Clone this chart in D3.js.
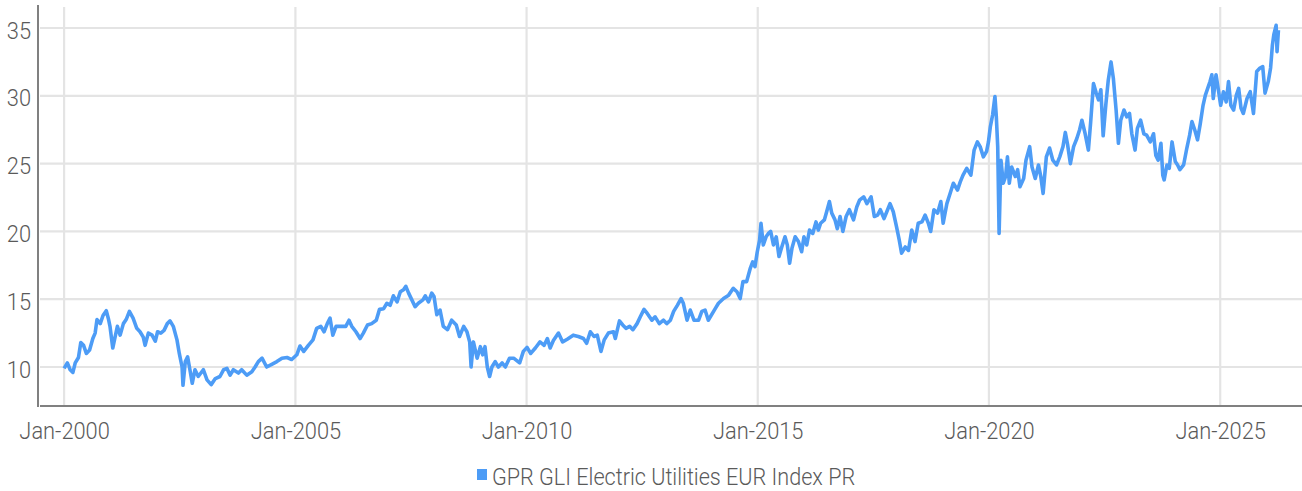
<!DOCTYPE html>
<html>
<head>
<meta charset="utf-8">
<script src="https://cdn.jsdelivr.net/npm/d3@7"></script>
<style>
  html, body { margin: 0; padding: 0; background: #fff; }
  svg text { font-family: Roboto, "Noto Sans", sans-serif; }
</style>
</head>
<body>
<svg id="chart"></svg>
<script>
// ===================== DATA =====================
const seriesName = "GPR GLI Electric Utilities EUR Index PR";
const yTicks = [10, 15, 20, 25, 30, 35];
const xTickYears = [2000, 2005, 2010, 2015, 2020, 2025];

// decimal years
const dates = [
  2000.00, 2000.07, 2000.13, 2000.19, 2000.24, 2000.31, 2000.36, 2000.42, 2000.48, 2000.55,
  2000.62, 2000.67, 2000.71, 2000.78, 2000.84, 2000.91, 2000.96, 2000.99, 2001.05, 2001.10,
  2001.15, 2001.21, 2001.28, 2001.34, 2001.41, 2001.49, 2001.57, 2001.64, 2001.71, 2001.75,
  2001.82, 2001.90, 2001.97, 2002.02, 2002.09, 2002.16, 2002.23, 2002.29, 2002.36, 2002.44,
  2002.49, 2002.55, 2002.57, 2002.62, 2002.67, 2002.72, 2002.77, 2002.83, 2002.90, 2003.01,
  2003.09, 2003.18, 2003.27, 2003.37, 2003.45, 2003.52, 2003.59, 2003.66, 2003.77, 2003.84,
  2003.95, 2004.06, 2004.13, 2004.20, 2004.28, 2004.38, 2004.49, 2004.60, 2004.71, 2004.82,
  2004.92, 2005.03, 2005.10, 2005.18, 2005.28, 2005.38, 2005.46, 2005.55, 2005.62, 2005.69,
  2005.75, 2005.81, 2005.88, 2005.98, 2006.09, 2006.16, 2006.22, 2006.31, 2006.40, 2006.47,
  2006.56, 2006.65, 2006.75, 2006.82, 2006.91, 2006.98, 2007.05, 2007.12, 2007.20, 2007.27,
  2007.34, 2007.39, 2007.45, 2007.52, 2007.59, 2007.66, 2007.76, 2007.81, 2007.88, 2007.95,
  2008.00, 2008.06, 2008.13, 2008.20, 2008.29, 2008.38, 2008.48, 2008.55, 2008.64, 2008.71,
  2008.77, 2008.80, 2008.85, 2008.93, 2009.00, 2009.05, 2009.10, 2009.15, 2009.20, 2009.25,
  2009.32, 2009.39, 2009.47, 2009.54, 2009.63, 2009.72, 2009.85, 2009.93, 2010.01, 2010.09,
  2010.19, 2010.29, 2010.38, 2010.45, 2010.51, 2010.58, 2010.69, 2010.78, 2010.88, 2011.01,
  2011.12, 2011.23, 2011.30, 2011.38, 2011.46, 2011.53, 2011.61, 2011.68, 2011.77, 2011.88,
  2011.92, 2012.01, 2012.08, 2012.15, 2012.23, 2012.30, 2012.39, 2012.46, 2012.54, 2012.61,
  2012.71, 2012.78, 2012.87, 2012.96, 2013.03, 2013.11, 2013.18, 2013.26, 2013.34, 2013.39,
  2013.47, 2013.54, 2013.62, 2013.72, 2013.79, 2013.86, 2013.93, 2014.08, 2014.15, 2014.26,
  2014.37, 2014.47, 2014.55, 2014.62, 2014.68, 2014.76, 2014.84, 2014.89, 2014.94, 2014.99,
  2015.04, 2015.07, 2015.12, 2015.18, 2015.23, 2015.28, 2015.34, 2015.40, 2015.46, 2015.52,
  2015.59, 2015.64, 2015.69, 2015.74, 2015.81, 2015.88, 2015.95, 2016.00, 2016.06, 2016.12,
  2016.19, 2016.26, 2016.31, 2016.36, 2016.44, 2016.49, 2016.55, 2016.60, 2016.67, 2016.72,
  2016.78, 2016.84, 2016.91, 2016.98, 2017.07, 2017.14, 2017.20, 2017.29, 2017.36, 2017.45,
  2017.52, 2017.59, 2017.65, 2017.73, 2017.79, 2017.86, 2017.93, 2018.00, 2018.06, 2018.11,
  2018.19, 2018.26, 2018.33, 2018.40, 2018.47, 2018.55, 2018.62, 2018.69, 2018.74, 2018.81,
  2018.89, 2018.96, 2019.01, 2019.09, 2019.16, 2019.23, 2019.32, 2019.38, 2019.44, 2019.52,
  2019.61, 2019.68, 2019.75, 2019.81, 2019.88, 2019.95, 2019.99, 2020.03, 2020.08, 2020.13,
  2020.16, 2020.19, 2020.22, 2020.26, 2020.31, 2020.36, 2020.40, 2020.44, 2020.49, 2020.57,
  2020.62, 2020.67, 2020.75, 2020.80, 2020.88, 2020.93, 2021.00, 2021.07, 2021.12, 2021.17,
  2021.24, 2021.31, 2021.38, 2021.46, 2021.53, 2021.60, 2021.65, 2021.70, 2021.76, 2021.83,
  2021.90, 2021.96, 2022.01, 2022.08, 2022.15, 2022.20, 2022.26, 2022.32, 2022.37, 2022.42,
  2022.47, 2022.53, 2022.58, 2022.64, 2022.69, 2022.75, 2022.80, 2022.85, 2022.92, 2022.98,
  2023.04, 2023.09, 2023.16, 2023.21, 2023.28, 2023.35, 2023.41, 2023.49, 2023.56, 2023.61,
  2023.66, 2023.72, 2023.76, 2023.79, 2023.85, 2023.90, 2023.96, 2024.03, 2024.08, 2024.13,
  2024.21, 2024.28, 2024.34, 2024.39, 2024.45, 2024.51, 2024.57, 2024.63, 2024.68, 2024.73,
  2024.78, 2024.82, 2024.85, 2024.91, 2024.96, 2025.01, 2025.07, 2025.13, 2025.18, 2025.23,
  2025.29, 2025.35, 2025.40, 2025.45, 2025.50, 2025.58, 2025.65, 2025.72, 2025.79, 2025.86,
  2025.92, 2025.97, 2026.04, 2026.09, 2026.13, 2026.16, 2026.21, 2026.23, 2026.26
];

const values = [
  9.9, 10.3, 9.8, 9.6, 10.3, 10.7, 11.8, 11.6, 11.0, 11.25,
  12.1, 12.5, 13.5, 13.2, 13.8, 14.15, 13.5, 13.0, 11.4, 12.2,
  13.0, 12.35, 13.2, 13.5, 14.1, 13.6, 12.85, 12.6, 12.2, 11.6,
  12.5, 12.35, 11.9, 12.6, 12.5, 12.7, 13.2, 13.4, 13.0, 12.0,
  11.0, 10.0, 8.65, 10.4, 10.75, 9.8, 8.8, 9.8, 9.3, 9.8,
  9.05, 8.7, 9.15, 9.3, 9.8, 9.9, 9.4, 9.8, 9.55, 9.8,
  9.4, 9.65, 10.0, 10.4, 10.65, 10.0, 10.2, 10.4, 10.65, 10.7,
  10.55, 10.9, 11.55, 11.15, 11.6, 12.0, 12.85, 13.0, 12.6, 13.2,
  13.6, 12.35, 13.0, 13.0, 13.0, 13.45, 13.0, 12.6, 12.1, 12.5,
  13.1, 13.2, 13.45, 14.25, 14.3, 14.7, 14.55, 15.25, 14.8, 15.55,
  15.7, 15.95, 15.45, 14.95, 14.45, 14.7, 14.95, 15.25, 14.8, 15.45,
  15.2, 13.85, 14.2, 13.0, 12.75, 13.45, 13.1, 12.25, 13.0, 12.6,
  11.85, 10.0, 11.85, 10.65, 11.5, 10.9, 11.5, 10.0, 9.3, 10.0,
  10.4, 10.0, 10.3, 10.0, 10.65, 10.65, 10.3, 11.15, 11.45, 11.0,
  11.4, 11.85, 11.6, 12.1, 11.4, 11.95, 12.5, 11.85, 12.05, 12.35,
  12.25, 12.1, 11.75, 12.6, 12.25, 12.35, 11.15, 12.0, 12.5, 12.6,
  12.1, 13.4, 13.1, 12.85, 13.0, 12.75, 13.2, 13.7, 14.25, 13.95,
  13.45, 13.7, 13.2, 13.45, 13.2, 13.45, 14.1, 14.55, 15.05, 14.7,
  13.45, 14.2, 13.45, 13.45, 14.1, 14.2, 13.45, 14.3, 14.7, 15.05,
  15.3, 15.8, 15.55, 15.05, 16.3, 16.3, 17.3, 17.75, 17.4, 18.5,
  19.35, 20.6, 19.0, 19.6, 19.85, 20.0, 19.0, 19.6, 18.15, 18.85,
  19.6, 19.0, 17.65, 18.75, 19.6, 19.25, 18.5, 19.6, 19.0, 20.1,
  19.85, 20.7, 20.1, 20.6, 20.85, 21.45, 22.2, 21.35, 20.85, 20.2,
  21.1, 20.0, 21.1, 21.6, 20.85, 21.8, 22.3, 22.55, 22.05, 22.55,
  21.1, 21.2, 21.6, 20.95, 21.45, 22.05, 21.45, 20.35, 19.35, 18.4,
  18.85, 18.6, 20.1, 19.25, 20.6, 20.7, 21.2, 20.6, 20.0, 21.6,
  21.35, 22.2, 20.6, 22.05, 22.8, 23.55, 23.05, 23.65, 24.15, 24.65,
  24.15, 26.0, 26.6, 26.25, 25.5, 25.9, 26.6, 27.7, 28.6, 29.95,
  28.45, 26.25, 19.85, 25.25, 23.55, 24.05, 25.5, 23.55, 24.75, 24.05,
  24.55, 23.3, 23.9, 25.25, 26.25, 24.75, 23.9, 24.9, 24.05, 22.8,
  25.5, 26.15, 25.25, 24.9, 25.5, 26.25, 27.3, 26.4, 25.0, 26.25,
  26.85, 27.5, 28.2, 27.2, 26.0, 28.1, 30.9, 30.2, 29.7, 30.45,
  27.05, 29.45, 31.15, 32.5, 31.3, 28.95, 26.5, 28.2, 28.95, 28.45,
  28.7, 27.2, 26.0, 27.6, 28.2, 27.2, 27.1, 26.6, 27.2, 25.6,
  25.25, 26.5, 24.15, 23.8, 24.9, 24.65, 26.6, 25.15, 24.9, 24.55,
  24.9, 26.15, 27.1, 28.1, 27.5, 26.75, 27.95, 29.3, 30.05, 30.55,
  31.05, 31.55, 29.8, 31.55, 30.45, 29.3, 30.3, 29.55, 31.05, 29.3,
  28.95, 30.05, 30.55, 29.1, 28.7, 29.8, 30.3, 28.7, 31.8, 32.05,
  32.15, 30.2, 31.05, 32.05, 33.75, 34.5, 35.2, 33.25, 34.85
];
// ========================================================================

var width = 1302;
var height = 491;
var plotLeft = 38, plotRight = 1302, plotTop = 7, plotBottom = 406;

function toDate(dec) {
  var y = Math.floor(dec);
  var a = new Date(y, 0, 1), b = new Date(y + 1, 0, 1);
  return new Date(a.getTime() + (dec - y) * (b - a));
}

const data = dates.map((d, i) => ({ date: toDate(d), value: values[i] }));

const xs = d3.scaleTime()
  .domain([toDate(1999.435), toDate(2026.77)])
  .range([plotLeft, plotRight]);
const ys = d3.scaleLinear()
  .domain([7.124, 36.55])
  .range([plotBottom, plotTop]);

const svg = d3.select("#chart")
  .attr("width", width)
  .attr("height", height);

const xTickDates = xTickYears.map(y => new Date(y, 0, 1));

// grid
svg.append("g").selectAll("line")
  .data(yTicks).enter().append("line")
  .attr("x1", plotLeft + 2).attr("x2", plotRight)
  .attr("y1", d => ys(d)).attr("y2", d => ys(d))
  .attr("stroke", "#e4e4e4").attr("stroke-width", 2.2);

svg.append("g").selectAll("line")
  .data(xTickDates).enter().append("line")
  .attr("x1", d => xs(d)).attr("x2", d => xs(d))
  .attr("y1", plotTop).attr("y2", plotBottom)
  .attr("stroke", "#e4e4e4").attr("stroke-width", 2.2);

// line
const line = d3.line()
  .x(d => xs(d.date))
  .y(d => ys(d.value));

svg.append("path")
  .datum(data)
  .attr("fill", "none")
  .attr("stroke", "#4d9cf6")
  .attr("stroke-width", 3.6)
  .attr("stroke-linejoin", "round")
  .attr("d", line);

// axes
const yAxis = svg.append("g")
  .attr("transform", "translate(" + plotLeft + ",0)")
  .call(d3.axisLeft(ys).tickValues(yTicks).tickSize(0).tickPadding(7));
yAxis.select(".domain").remove();
yAxis.append("line")
  .attr("x1", 0).attr("x2", 0).attr("y1", 5).attr("y2", plotBottom + 1)
  .attr("stroke", "#808080").attr("stroke-width", 2);

const xAxis = svg.append("g")
  .attr("transform", "translate(0," + plotBottom + ")")
  .call(d3.axisBottom(xs).tickValues(xTickDates).tickSize(0).tickFormat(d3.timeFormat("%b-%Y")));
xAxis.select(".domain").remove();
xAxis.append("line")
  .attr("x1", plotLeft + 2).attr("x2", plotRight).attr("y1", 0).attr("y2", 0)
  .attr("stroke", "#808080").attr("stroke-width", 2);

svg.selectAll(".tick text")
  .attr("font-family", "Roboto, sans-serif")
  .attr("font-size", 24)
  .attr("font-weight", 300)
  .attr("fill", "#5a5a5a");
yAxis.selectAll(".tick text").attr("dy", "0.42em");
xAxis.selectAll(".tick text").attr("y", 33).attr("dy", 0);

// condense labels a bit (reference font is narrow)
function condense(sel, k) {
  sel.each(function () {
    var w = this.getComputedTextLength();
    d3.select(this).attr("textLength", w * k).attr("lengthAdjust", "spacingAndGlyphs");
  });
}
condense(svg.selectAll(".tick text"), 0.91);

// legend
const legend = svg.append("g");
legend.append("rect")
  .attr("x", 477).attr("y", 469).attr("width", 10).attr("height", 11)
  .attr("fill", "#4d9cf6");
legend.append("text")
  .attr("x", 492).attr("y", 485)
  .attr("font-size", 24).attr("font-weight", 300)
  .attr("fill", "#5a5a5a")
  .text(seriesName);
condense(legend.selectAll("text"), 0.9);
</script>
</body>
</html>
